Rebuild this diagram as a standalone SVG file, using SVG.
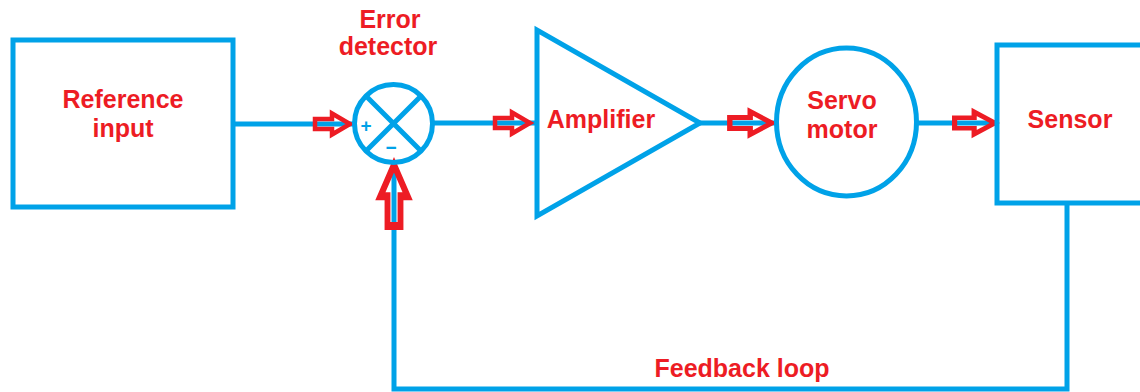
<svg xmlns="http://www.w3.org/2000/svg" width="1140" height="392" viewBox="0 0 1140 392">
<style>
.b{fill:none;stroke:#00a2e8;stroke-width:5}
.ar{fill:none;stroke:#ed1c24;stroke-width:4.5;stroke-linejoin:miter}
.t{font-family:"Liberation Sans",Arial,sans-serif;font-weight:bold;font-size:25px;fill:#ed1c24;text-anchor:middle}
.s{font-family:"Liberation Sans",Arial,sans-serif;font-weight:bold;font-size:19px;fill:#00a2e8;text-anchor:middle}
</style>
<defs>
<polygon id="arr" points="-36,-5 -19,-5 -19,-10.5 -1,0 -19,10.5 -19,5 -36,5"/>
</defs>
<rect width="1140" height="392" fill="#fff"/>
<g id="connectors">
<path class="b" d="M233 124 H355"/>
<path class="b" d="M432 123 H537"/>
<path class="b" d="M700 123 H777"/>
<path class="b" d="M916 123 H998"/>
<path class="b" d="M1067 203 V389 H394 V162"/>
<use href="#arr" class="ar" transform="translate(351,124)"/>
<use href="#arr" class="ar" transform="translate(531,123)"/>
<use href="#arr" class="ar" transform="translate(773,123) scale(1.2,1.1)"/>
<use href="#arr" class="ar" transform="translate(996,123) scale(1.15,1.05)"/>
<use href="#arr" class="ar" transform="translate(394,163) rotate(-90) scale(1.75,1.3)"/>
</g>
<g id="reference-input">
<rect class="b" x="13" y="40" width="220" height="167"/>
<text class="t" x="123" y="108">Reference</text>
<text class="t" x="123" y="137">input</text>
</g>
<g id="error-detector">
<circle class="b" cx="393.5" cy="123.5" r="39"/>
<path class="b" d="M366 96 L421 151 M421 96 L366 151"/>
<text class="s" x="366" y="132">+</text>
<text class="s" x="391" y="154">−</text>
<text class="t" x="390" y="28">Error</text>
<text class="t" x="388" y="55">detector</text>
</g>
<g id="amplifier">
<polygon class="b" points="537,30 537,216 700,123"/>
<text class="t" x="601" y="128">Amplifier</text>
</g>
<g id="servo-motor">
<ellipse class="b" cx="846.5" cy="122" rx="70" ry="74"/>
<text class="t" x="842" y="109">Servo</text>
<text class="t" x="842" y="138">motor</text>
</g>
<g id="sensor">
<rect class="b" x="997" y="45" width="160" height="158"/>
<text class="t" x="1070" y="128">Sensor</text>
</g>
<text class="t" x="742" y="377">Feedback loop</text>
</svg>
